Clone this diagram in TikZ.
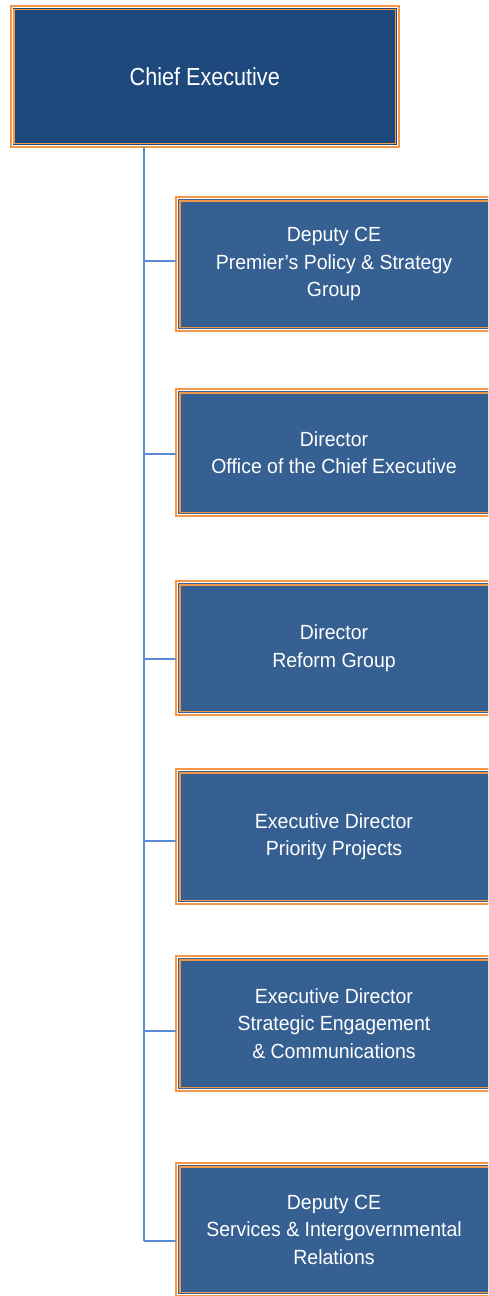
\documentclass[tikz,border=0pt]{standalone}
\usepackage{fontspec}
\newfontfamily\topfont[FakeStretch=0.875]{Liberation Sans}
\newfontfamily\kidfont[FakeStretch=0.95]{Liberation Sans}
\definecolor{topblue}{HTML}{1F497D}
\definecolor{kidblue}{HTML}{366092}
\definecolor{boxorange}{HTML}{F79646}
\definecolor{connblue}{HTML}{5B8BD2}
\tikzset{
  orgbox/.style={draw=boxorange, line width=2pt,
    text=white, align=center, inner sep=0pt, outer sep=0pt},
  topbox/.style={orgbox, fill=topblue, minimum width=388.5pt, minimum height=141.3pt,
    font=\topfont\fontsize{24.7}{30}\selectfont},
  kidbox/.style={orgbox, fill=kidblue, minimum width=316pt,
    font=\kidfont\fontsize{20.5}{27.5}\selectfont},
  whiteframe/.style={draw=white, line width=0.9pt},
  innerframe/.style={draw=boxorange, line width=1.6pt},
  conn/.style={draw=connblue, line width=1.5pt}
}
\newcommand{\orgframe}[1]{%
  \draw[whiteframe] ([xshift=1.6pt,yshift=-1.6pt]#1.north west) rectangle ([xshift=-1.6pt,yshift=1.6pt]#1.south east);
  \draw[innerframe] ([xshift=3.7pt,yshift=-3.7pt]#1.north west) rectangle ([xshift=-3.7pt,yshift=3.7pt]#1.south east);
}
\begin{document}
\begin{tikzpicture}[x=1pt,y=-1pt]
\clip (0,0) rectangle (488,1296);
\fill[white] (0,0) rectangle (488,1296);
% boxes
\node[topbox] (ce) at (204.75,76.35) {Chief Executive};
\node[kidbox, minimum height=134pt] (d1) at (334,264) {Deputy CE\\Premier’s Policy \& Strategy\\Group};
\node[kidbox, minimum height=127pt] (d2) at (334,452.5) {Director\\Office of the Chief Executive};
\node[kidbox, minimum height=134pt] (d3) at (334,648) {Director\\Reform Group};
\node[kidbox, minimum height=135pt] (d4) at (334,836.5) {Executive Director\\Priority Projects};
\node[kidbox, minimum height=135pt] (d5) at (334,1023.5) {Executive Director\\Strategic Engagement\\\& Communications};
\node[kidbox, minimum height=133pt] (d6) at (334,1229.5) {Deputy CE\\Services \& Intergovernmental\\Relations};
\foreach \n in {ce,d1,d2,d3,d4,d5,d6} {\orgframe{\n}}
% branch points on the spine
\coordinate (b1) at (144,261);
\coordinate (b2) at (144,454);
\coordinate (b3) at (144,659);
\coordinate (b4) at (144,841);
\coordinate (b5) at (144,1031);
\coordinate (b6) at (144,1241);
% connectors
\draw[conn] (ce.south -| b1) -- (b6);
\foreach \i in {1,...,6} {
  \draw[conn] (b\i) -- (b\i -| d\i.west);
}
\end{tikzpicture}
\end{document}
